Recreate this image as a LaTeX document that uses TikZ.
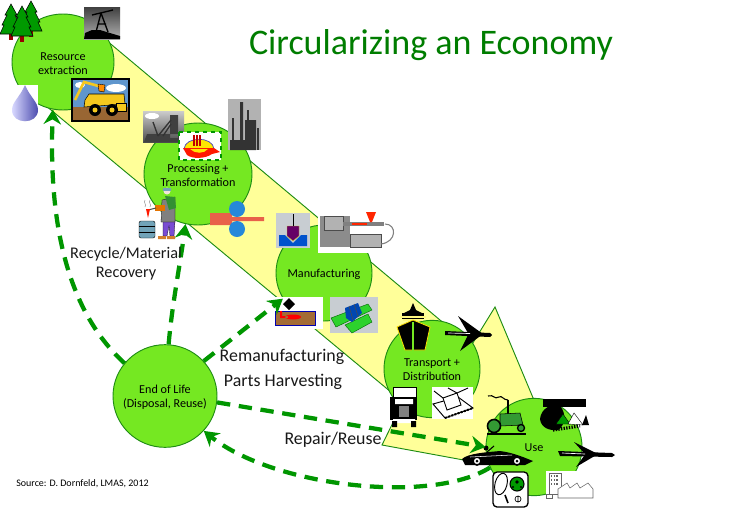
\documentclass[tikz,border=0pt]{standalone}
\usepackage{fontspec}
\setmainfont{Carlito}
\usepackage{tikz}
\usetikzlibrary{arrows.meta}
\usetikzlibrary{shapes.geometric}

\definecolor{stagegreen}{RGB}{117,232,34}
\definecolor{edgegreen}{RGB}{30,140,20}
\definecolor{bandyellow}{RGB}{255,255,153}
\definecolor{flowgreen}{RGB}{0,150,0}
\definecolor{titlegreen}{RGB}{0,125,0}
\definecolor{greyicon}{RGB}{200,205,210}
\definecolor{skyblue}{RGB}{95,150,205}
\definecolor{truckyellow}{RGB}{245,200,30}

\tikzset{
	stagecircle/.style={ellipse,draw=edgegreen,fill=stagegreen,line width=0.7pt,inner sep=0pt},
	stagename/.style={align=center,text=black,font=\fontsize{9.1}{10.5}\selectfont},
	flowarrow/.style={draw=flowgreen,line width=3.2pt,dash pattern=on 10pt off 6.5pt,
		-{Stealth[length=11pt,width=13pt,flowgreen]}},
	flowlabel/.style={align=center,inner sep=0pt,text=black!90,font=\fontsize{13.4}{16}\selectfont},
	whitebox/.style={fill=white,draw=none},
	pine/.style={fill=green!60!black,draw=black,line width=0.4pt}
}

\begin{document}
\begin{tikzpicture}[x=0.75pt,y=-0.75pt]
	\useasboundingbox (0,0) rectangle (755,507);

	% band with arrow head
	\path[draw=edgegreen,fill=bandyellow,line width=0.7pt] (100,35) -- (471,346) -- (495,307)
		-- (567,479) -- (382,445) -- (403,402) -- (45,105) -- cycle;

	% stages
	\node[stagecircle,minimum width=76.5pt,minimum height=72pt] (res) at (63,62) {};
	\node[stagecircle,minimum width=81pt,minimum height=76.5pt] (proc) at (198,174) {};
	\node[stagecircle,minimum width=72pt,minimum height=72pt] (mfg) at (324,273) {};
	\node[stagecircle,minimum width=72pt,minimum height=73pt] (trans) at (432,369) {};
	\node[stagecircle,minimum width=72pt,minimum height=73pt] (use) at (534,447) {};
	\node[stagecircle,minimum width=78pt,minimum height=77pt] (eol) at (165,396) {};

	% trees
	\foreach \tx/\ty in {31/1,11/4,22/6}{
		\begin{scope}[shift={(\tx,\ty)}]
			\path[fill=red!60!black] (-2,28) rectangle (2,36);
			\path[pine] (0,0) -- (-6,11) -- (-4,11) -- (-9,21) -- (-7,21) -- (-11,30) -- (11,30) -- (7,21)
				-- (9,21) -- (4,11) -- (6,11) -- cycle;
		\end{scope}
	}
	% oil pump
	\path[top color=black!75,bottom color=black!30] (84,7) rectangle (120,39);
	\path[fill=black] (84,39) -- (85,33) -- (92,30) -- (100,30) -- (110,33) -- (120,36) -- (120,39) -- cycle;
	\path[draw=black,line width=1pt] (92,15) -- (113,10) (101,13) -- (96,32) (101,13) -- (108,32) (98,24) -- (106,24);
	% water drop
	\path[whitebox] (12,85) rectangle (38,122);
	\path[left color=blue!15,right color=blue!55!black!70] (25,85) .. controls (20,97) and (12,102) .. (12,110)
		.. controls (12,125) and (38,125) .. (38,110) .. controls (38,102) and (30,97) .. (25,85) -- cycle;
	% dump truck
	\path[draw=black,line width=1.2pt,fill=skyblue] (72,79) rectangle (129,121);
	\path[fill=white] (80,85) ellipse (5 and 3) (116,88) ellipse (10 and 4);
	\path[fill=brown!80!black] (73,107) rectangle (128,120);
	\path[draw=truckyellow,line width=2pt] (75,100) -- (84,82) -- (102,87);
	\path[fill=orange!90!yellow,draw=black,line width=0.3pt] (98,84) -- (105,85) -- (104,92) -- (99,91) -- cycle;
	\path[fill=truckyellow,draw=black,line width=0.4pt] (85,100) -- (89,94) -- (124,94) -- (125,104) -- (84,107) -- cycle;
	\path[fill=truckyellow,draw=black,line width=0.4pt] (116,103) rectangle (126,111);
	\foreach \wx in {95,112}{
		\path[fill=black] (\wx,110) circle (6);
		\path[fill=truckyellow] (\wx,110) circle (2.5);
	}
	% blast furnace
	\path[top color=black!20,bottom color=black!70] (143,111) rectangle (184,142);
	\path[fill=white] (152,116) ellipse (7 and 3);
	\path[fill=black!75] (170,115) rectangle (178,138) (147,134) -- (183,134) -- (183,142) -- (144,142) -- cycle;
	\path[draw=black!80,line width=1pt] (153,122) -- (158,136) (158,136) -- (171,120) (163,136) -- (171,124);
	% refinery
	\path[fill=black!30] (228,99) rectangle (261,150);
	\path[fill=black!80] (240,102) rectangle (243,150) (245,120) rectangle (256,150) (230,140) rectangle (245,150);
	\path[draw=black!80,line width=0.8pt] (233,118) -- (233,140) (248,110) -- (248,122) (258,128) -- (258,150);
	% ladle
	\path[whitebox,draw=flowgreen,dashed,line width=1pt] (179,132) rectangle (221,160);
	\path[fill=yellow!90!orange,draw=blue!50!gray,line width=0.5pt] (184,149) .. controls (185,136) and (213,136) .. (214,149) -- cycle;
	\path[fill=red!80!orange] (183,148) -- (214,148) -- (220,152) -- (212,154) .. controls (205,159) and (192,159) .. (187,155) -- cycle;
	\path[fill=yellow!90!orange] (190,149) .. controls (195,154) and (204,154) .. (208,149) -- cycle;
	\path[draw=red!75!black,line width=0.9pt] (194,135) -- (194,146) (197,135) -- (197,146) (200,135) -- (200,146);
	% worker with drum
	\path[fill=cyan!40!gray,draw=black,line width=0.3pt,rounded corners=1.5pt] (139,221) rectangle (155,238);
	\path[draw=black,line width=0.3pt] (139,226) -- (155,226) (139,232) -- (155,232);
	\path[fill=blue!50!violet!70,draw=black,line width=0.2pt] (163,221) -- (175,221) -- (174,236) -- (170,236) -- (169,226) -- (167,236) -- (163,236) -- cycle;
	\path[fill=brown!70!orange] (158,236) rectangle (166,239) (167,236) rectangle (175,239);
	\path[fill=black!50,draw=black,line width=0.2pt] (162,200) -- (175,197) -- (175,222) -- (161,222) -- cycle;
	\path[fill=green!45!black!80] (165,196) -- (175,197) -- (176,208) -- (169,210) -- cycle;
	\path[fill=orange!90!black] (155,205) rectangle (165,211);
	\path[fill=white!80!brown] (167,191) circle (3.5);
	\path[fill=cyan!40!gray] (163,188) rectangle (171,191);
	\path[draw=black!70,line width=0.8pt] (156,208) -- (148,210);
	\path[fill=red!80!orange] (146,209) -- (150,209) -- (148,218) -- cycle;
	\path[draw=black!40,line width=0.4pt] (145,200) .. controls (143,203) and (147,204) .. (145,207) (150,200) .. controls (148,203) and (152,204) .. (150,207);
	% rolling
	\path[fill=red!55!brown!80] (210,213) rectangle (232,225) (232,217) rectangle (264,221);
	\path[fill=blue!45!cyan!70!gray] (237,209) circle (8) (237,229) circle (8);
	% press die
	\path[fill=greyicon] (276,213) rectangle (310,248);
	\path[fill=blue!60!cyan!80!black] (279,235) -- (285,235) -- (293,243) -- (301,235) -- (307,235) -- (307,246) -- (279,246) -- cycle;
	\path[fill=violet!80!black,draw=yellow!80!black,line width=0.3pt] (287,226) -- (299,226) -- (299,236) -- (293,241) -- (287,236) -- cycle;
	\path[draw=black,line width=0.3pt] (293,214) -- (293,226);
	% injection moulding
	\path[whitebox] (318,214) rectangle (393,253);
	\path[fill=black!45] (320,216) rectangle (350,247);
	\path[fill=black!30,draw=black!70,line width=0.3pt] (324,216) rectangle (343,230) (350,234) rectangle (381,247);
	\path[fill=black!50] (343,222) rectangle (384,226);
	\path[fill=red!70!orange] (366,212) -- (376,212) -- (372,222) -- (370,222) -- cycle;
	\path[fill=red!70!orange] (352,223) rectangle (367,225);
	\path[draw=black!50,line width=0.8pt] (385,224) .. controls (397,224) and (397,242) .. (381,244);
	% cast box
	\path[whitebox] (275,297) rectangle (323,329);
	\path[fill=brown!85!black,draw=blue!70!black,line width=0.5pt] (275,311) rectangle (315,325);
	\path[fill=black] (289,298) -- (295,304) -- (289,310) -- (283,304) -- cycle;
	\path[fill=red] (293,317) ellipse (8 and 2.5) (280,311) rectangle (282,318) (280,316) rectangle (288,318);
	% hob
	\path[fill=greyicon] (330,297) rectangle (378,333);
	\path[fill=green!65!gray,draw=green!40!black,line width=0.3pt] (345,325) -- (368,314) -- (372,322) -- (352,333) -- cycle;
	\path[fill=green!65!gray,draw=green!40!black,line width=0.3pt] (331,318) -- (368,304) -- (372,310) -- (336,327) -- cycle;
	\path[fill=blue!60!cyan!70!black] (345,308) -- (358,303) -- (362,313) -- (352,322) -- (346,318) -- cycle;
	\path[draw=black!70,line width=0.4pt] (349,306) -- (353,320) (354,304) -- (358,316);
	% ship
	\path[fill=black] (413,303) -- (416,310) -- (422,313) -- (404,313) -- (410,310) -- cycle;
	\path[fill=black] (402,313) rectangle (424,319);
	\path[draw=yellow!50!white,line width=0.8pt] (400,317) -- (426,317) (403,320) -- (423,320);
	\path[fill=black,draw=yellow!80!orange,line width=0.6pt] (397,327) -- (413,320) -- (430,327) -- (425,350) -- (405,350) -- cycle;
	\path[draw=stagegreen,line width=0.8pt] (413,322) -- (413,351);
	% planes
	\path[fill=black] (445,331) -- (490,333) -- (492,335) -- (490,337) -- (445,335) -- cycle;
	\path[fill=black] (458,316) -- (483,334) -- (460,351) -- (468,335) -- (468,333) -- cycle;
	\path[draw=white,line width=0.5pt] (448,333) -- (470,333.5);
	\path[fill=black] (558,451) -- (612,453) -- (615,455) -- (612,457) -- (560,456) -- cycle;
	\path[fill=black] (574,442) -- (598,454) -- (576,467) -- (584,456) -- (584,453) -- cycle;
	\path[draw=white,line width=0.5pt] (562,453) -- (585,454);
	% truck
	\path[fill=white,draw=black,line width=0.4pt] (393,387) rectangle (416,397);
	\path[fill=black] (390,397) rectangle (417,420);
	\path[fill=white] (395,399) rectangle (413,404) (393,419) rectangle (415,423);
	\path[fill=black!50] (399,406) rectangle (409,417);
	\path[fill=black] (392,421) rectangle (397,427) (411,421) rectangle (416,427);
	% box on conveyor
	\path[whitebox] (432,387) rectangle (473,419);
	\path[draw=black,line width=0.7pt,fill=white] (433,404) -- (458,397) -- (473,408) -- (445,418) -- cycle;
	\path[draw=black,line width=0.7pt,fill=white] (443,398) -- (457,393) -- (461,405) -- (447,410) -- cycle;
	\path[draw=black,line width=0.7pt] (434,391) -- (443,398) (457,393) -- (468,388) (448,388) -- (457,393);
	\path[draw=black,line width=1.5pt,dash pattern=on 1.5pt off 1pt] (445,418) -- (473,408);
	% tractor
	\path[draw=black,line width=0.8pt] (488,396) .. controls (494,394) and (494,400) .. (499,397) .. controls (502,395) and (503,400) .. (508,400);
	\path[draw=black,line width=0.8pt] (508,400) -- (508,414);
	\path[fill=green!50!black!80,draw=black,line width=0.4pt] (500,414) -- (520,413) -- (523,425) -- (500,426) -- cycle;
	\path[draw=black,line width=1pt] (487,434) -- (526,434);
	\path[fill=green!50!black!80,draw=black,line width=1.2pt] (494,426) circle (6.5);
	\path[fill=green!50!black!80,draw=black,line width=1pt] (521,428) circle (3.5);
	% house in trees
	\path[fill=black] (543,399) rectangle (586,407);
	\path[fill=black] (540,419) .. controls (541,408) and (552,403) .. (560,406) .. controls (566,412) and (566,425) .. (558,430) .. controls (550,431) and (541,428) .. (540,419) -- cycle;
	\path[fill=green!60!black,draw=black,line width=0.3pt] (556,424) -- (563,414) -- (570,424) -- cycle;
	\path[fill=white,draw=black,line width=0.3pt] (568,424) -- (574,413) -- (583,425) -- cycle;
	\path[fill=black] (582,425) -- (586,415) -- (589,425) -- cycle;
	\path[draw=black,line width=2.4pt,dash pattern=on 1pt off 1pt] (553,430) -- (580,426);
	% car
	\path[fill=black] (462,459) .. controls (468,453) and (490,452) .. (500,451) .. controls (515,453) and (525,458) .. (533,461) -- (525,465) -- (465,465) -- cycle;
	\path[draw=black,line width=0.8pt] (487,452) -- (494,446);
	\path[fill=black] (486,448) circle (2.5);
	\foreach \wx in {477,517}{
		\path[fill=white,draw=black,line width=1.2pt] (\wx,461) circle (4);
		\path[fill=black] (\wx,461) circle (1.5);
	}
	\path[draw=white,line width=0.4pt] (470,457) -- (512,455);
	% racket and ball
	\path[fill=white,draw=black,line width=1pt,rounded corners=3pt] (493,472) rectangle (528,507);
	\path[draw=black,line width=0.7pt,rotate around={-15:(501,484)}] (501,484) ellipse (6 and 11);
	\path[draw=black,line width=1.2pt] (505,495) -- (508,503);
	\path[fill=green!60!black,draw=black,line width=0.8pt] (517,484) circle (7);
	\path[fill=black] (517,482) circle (1.8) (513,487) circle (1.2) (521,487) circle (1.2);
	\path[draw=black,line width=0.5pt] (518,499) circle (3) (518,496) -- (518,502);
	% factory
	\path[whitebox] (546,471) rectangle (594,498);
	\path[fill=white,draw=black!60,line width=0.4pt] (549,473) rectangle (561,494);
	\path[draw=black!60,line width=1pt,dash pattern=on 1pt off 1pt] (551,476) -- (559,476) (551,480) -- (559,480) (551,484) -- (559,484);
	\path[fill=white,draw=black!60,line width=0.4pt] (558,498) -- (558,489) -- (567,483) -- (570,488) -- (577,483) -- (580,488) -- (588,483) -- (593,489) -- (593,498) -- cycle;
	\path[draw=black!60,line width=0.4pt] (546,494) rectangle (552,498);

	% stage names
	\node[stagename] (resname) at (63,64) {Resource\\extraction};
	\node[stagename] (procname) at (198,175) {Processing +\\Transformation};
	\node[stagename] (mfgname) at (324,274) {Manufacturing};
	\node[stagename] (transname) at (432,370) {Transport +\\Distribution};
	\node[stagename] (usename) at (534,448) {Use};
	\node[stagename] (eolname) at (165,397) {End of Life\\(Disposal, Reuse)};

	% flows
	\path[flowarrow] (eol.141) .. controls (72,315) and (48,235) .. (res.258);
	\path[flowarrow] (eol.86) .. controls (172,305) and (180,265) .. (proc.256);
	\path[flowarrow] (eol.42) -- (mfg.212);
	\path[flowarrow] (eol.-7) -- (use.west);
	\path[flowarrow] (use.205) .. controls (430,505) and (272,486) .. (eol.-42);

	% texts
	\node[font=\fontsize{27}{30}\selectfont,text=titlegreen,inner sep=0pt] (title) at (431,45) {Circularizing an Economy};
	\node[flowlabel,font=\fontsize{12.2}{14.3}\selectfont] (recycle) at (126,264) {Recycle/Material\\Recovery};
	\node[flowlabel] (reman) at (282,357) {Remanufacturing};
	\node[flowlabel] (parts) at (283,382) {Parts Harvesting};
	\node[flowlabel] (repair) at (333,440) {Repair/Reuse};
	\node[font=\fontsize{7.5}{8}\selectfont,inner sep=0pt] (source) at (82.5,484) {Source: D. Dornfeld, LMAS, 2012};
\end{tikzpicture}
\end{document}
